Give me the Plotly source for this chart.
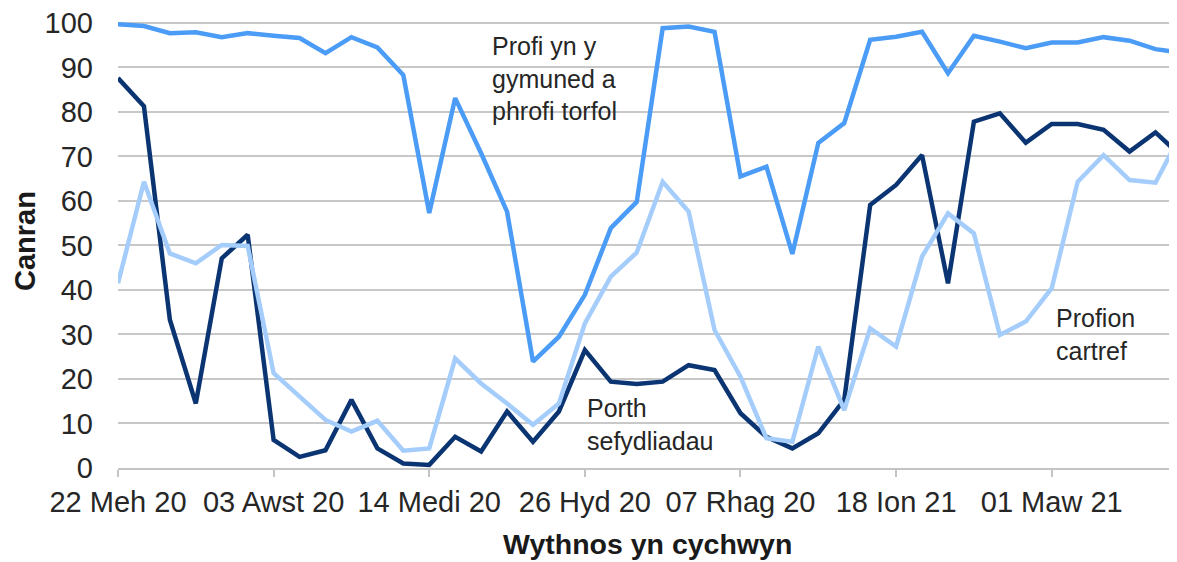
import pandas as pd
import plotly.graph_objects as go

# Weekly categories (week commencing)
week_start = pd.date_range("2020-06-22", periods=42, freq="7D")

# Series values (percent)
community_mass = [99.7, 99.3, 97.7, 97.9, 96.8, 97.7, 97.1, 96.6, 93.2, 96.8,
                  94.5, 88.3, 57.3, 83.1, 70.7, 57.6, 23.9, 29.5, 38.9, 53.9,
                  59.8, 98.8, 99.2, 98.0, 65.5, 67.7, 48.1, 73.0, 77.5, 96.2,
                  96.9, 98.0, 88.7, 97.1, 95.8, 94.3, 95.6, 95.6, 96.8, 96.0,
                  94.1, 93.3]
porth_sefydliadau = [87.6, 81.3, 33.3, 14.5, 47.1, 52.4, 6.3, 2.5, 4.0, 15.3,
                     4.4, 1.0, 0.7, 7.0, 3.7, 12.7, 5.9, 12.7, 26.5, 19.4,
                     18.9, 19.4, 23.1, 22.0, 12.3, 7.0, 4.4, 7.8, 15.3, 59.1,
                     63.6, 70.3, 41.5, 77.8, 79.7, 73.1, 77.3, 77.3, 76.0, 71.1,
                     75.4, 70.0]
profion_cartref = [41.5, 64.3, 48.2, 46.0, 50.1, 49.9, 21.3, 16.0, 10.8, 8.2,
                   10.6, 3.9, 4.4, 24.6, 19.0, 14.5, 9.7, 14.5, 32.5, 43.0,
                   48.4, 64.3, 57.6, 31.0, 20.5, 6.7, 5.9, 27.3, 13.0, 31.4,
                   27.3, 47.5, 57.2, 52.7, 29.9, 32.9, 40.4, 64.3, 70.3, 64.7,
                   64.1, 75.2]

tick_dates = ["2020-06-22", "2020-08-03", "2020-09-14", "2020-10-26",
              "2020-12-07", "2021-01-18", "2021-03-01"]
tick_text = ["22 Meh 20", "03 Awst 20", "14 Medi 20", "26 Hyd 20",
             "07 Rhag 20", "18 Ion 21", "01 Maw 21"]
y_ticks = list(range(0, 101, 10))

FONT = "Liberation Sans, Arial, sans-serif"
TXT = "#262626"

fig = go.Figure()
fig.add_trace(go.Scatter(x=week_start, y=porth_sefydliadau, mode="lines",
                         line=dict(color="#0b3572", width=4.5), name="Porth sefydliadau"))
fig.add_trace(go.Scatter(x=week_start, y=community_mass, mode="lines",
                         line=dict(color="#4b9cf6", width=4.5), name="Profi yn y gymuned a phrofi torfol"))
fig.add_trace(go.Scatter(x=week_start, y=profion_cartref, mode="lines",
                         line=dict(color="#a5cdfb", width=4.5), name="Profion cartref"))

x_end = week_start[0] + pd.Timedelta(days=7 * 40.83)

# page body has an 8px margin; figure sized/placed to compensate
fig.update_layout(
    width=1169, height=554,
    margin=dict(l=110, r=0, t=6, b=94),
    plot_bgcolor="white", paper_bgcolor="white",
    showlegend=False,
    font=dict(family=FONT, size=25, color=TXT),
)
fig.update_xaxes(
    range=[week_start[0], x_end],
    tickvals=tick_dates, ticktext=tick_text,
    showgrid=False, showline=True, linecolor="#c4c4c4", linewidth=1.8,
    ticks="outside", ticklen=7, tickwidth=1.8, tickcolor="#c4c4c4",
    tickfont=dict(family=FONT, size=29, color=TXT),
    zeroline=False,
)
fig.update_yaxes(
    range=[0, 102], tickvals=y_ticks,
    showgrid=True, gridcolor="#c8c8c8", gridwidth=1.8,
    zeroline=False, showline=False, ticks="",
    tickfont=dict(family=FONT, size=29, color=TXT),
    ticklabelstandoff=24, ticklabeloverflow="allow",
)

ann = [
    dict(x=week_start[0] + pd.Timedelta(days=7 * 14.34), y=87.4, xref="x", yref="y",
         text="Profi yn y<br>gymuned a<br>phrofi torfol", align="left",
         xanchor="left", yanchor="middle", showarrow=False,
         font=dict(family=FONT, size=25, color=TXT)),
    dict(x=week_start[0] + pd.Timedelta(days=7 * 18.0), y=9.8, xref="x", yref="y",
         text="Porth<br>sefydliadau", align="left",
         xanchor="left", yanchor="middle", showarrow=False,
         font=dict(family=FONT, size=25, color=TXT)),
    dict(x=week_start[0] + pd.Timedelta(days=7 * 36.1), y=29.9, xref="x", yref="y",
         text="Profion<br>cartref", align="left",
         xanchor="left", yanchor="middle", showarrow=False,
         font=dict(family=FONT, size=25, color=TXT)),
    dict(x=0.5, y=0, xref="paper", yref="paper", yshift=-76, borderpad=0,
         text="<b>Wythnos yn cychwyn</b>", showarrow=False,
         xanchor="center", yanchor="middle",
         font=dict(family=FONT, size=28.5, color="#1a1a1a")),
    dict(x=0, y=0.5, xref="paper", yref="paper", xshift=-93,
         text="<b>Canran</b>", textangle=-90, showarrow=False,
         xanchor="center", yanchor="middle",
         font=dict(family=FONT, size=29, color="#1a1a1a")),
]
fig.update_layout(annotations=ann)

fig.write_html("out.html")
